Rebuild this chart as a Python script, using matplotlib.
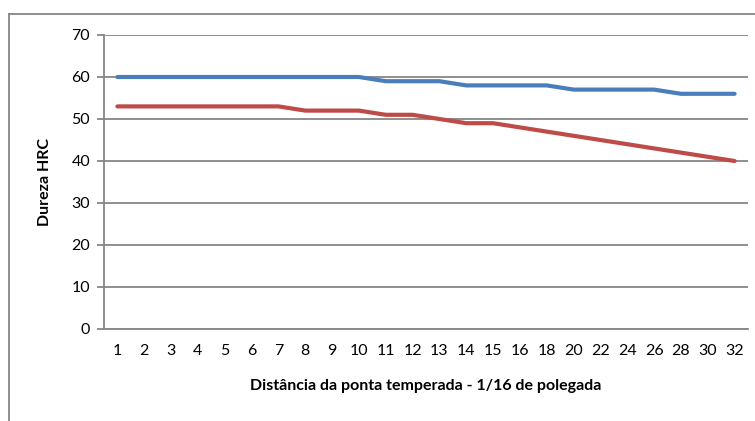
import matplotlib.pyplot as plt
from matplotlib.lines import Line2D

plt.rcParams['font.family'] = ['Lato', 'DejaVu Sans']

# data
distancia = ['1', '2', '3', '4', '5', '6', '7', '8', '9', '10', '11', '12',
             '13', '14', '15', '16', '18', '20', '22', '24', '26', '28', '30', '32']
serie_azul = [60, 60, 60, 60, 60, 60, 60, 60, 60, 60, 59, 59,
              59, 58, 58, 58, 58, 57, 57, 57, 57, 56, 56, 56]
serie_vermelha = [53, 53, 53, 53, 53, 53, 53, 52, 52, 52, 51, 51,
                  50, 49, 49, 48, 47, 46, 45, 44, 43, 42, 41, 40]

fig = plt.figure(figsize=(7.55, 4.21), dpi=100)
ax = fig.add_axes([104 / 755, 1 - 329 / 421, (748 - 104) / 755, (329 - 35) / 421])

x = list(range(len(distancia)))
ax.plot(x, serie_azul, color='#4A7EBB', lw=3, solid_capstyle='round', zorder=3)
ax.plot(x, serie_vermelha, color='#BE4B48', lw=3, solid_capstyle='round', zorder=3)

ax.set_xlim(-0.5, len(distancia) - 0.5)
ax.set_ylim(0, 70)
ax.set_yticks(range(0, 71, 10))
ax.set_xticks(x)
ax.set_xticklabels(distancia)
ax.grid(axis='y', color='#868686', lw=1.3)
ax.set_axisbelow(True)

for s in ['top', 'right']:
    ax.spines[s].set_visible(False)
for s in ['left', 'bottom']:
    ax.spines[s].set_color('#868686')
    ax.spines[s].set_linewidth(1.3)

ax.tick_params(axis='x', length=0, pad=11, labelsize=11.5)
ax.tick_params(axis='y', length=5, width=1.3, color='#868686', pad=5, labelsize=11.5)

ax.set_xlabel('Distância da ponta temperada - 1/16 de polegada', fontsize=11.5,
              fontweight='bold', labelpad=15)
ax.set_ylabel('Dureza HRC', fontsize=11.5, fontweight='bold', labelpad=14)

# chart frame
fig.add_artist(Line2D([9 / 755, 9 / 755], [0, 1 - 14 / 421], color='#868686', lw=1.3,
                      transform=fig.transFigure))
fig.add_artist(Line2D([9 / 755, 1], [1 - 14 / 421, 1 - 14 / 421], color='#868686', lw=1.3,
                      transform=fig.transFigure))

plt.savefig('out.png', format='png')
